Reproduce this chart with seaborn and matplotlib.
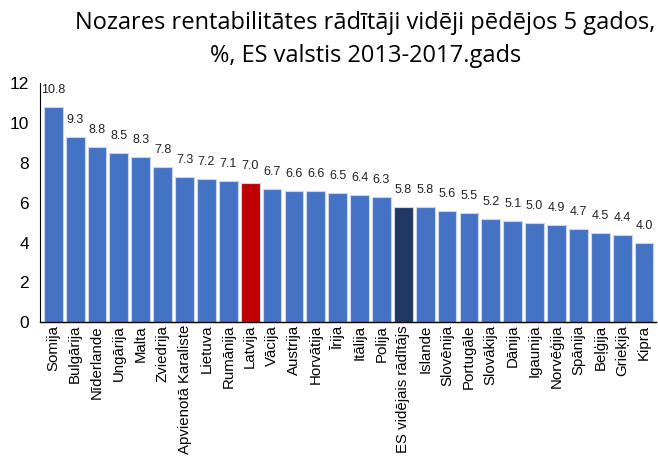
import pandas as pd
import numpy as np
import matplotlib.pyplot as plt
import seaborn as sns

# data
countries = ["Somija", "Bulgārija", "Nīderlande", "Ungārija", "Malta", "Zviedrija",
             "Apvienotā Karaliste", "Lietuva", "Rumānija", "Latvija", "Vācija", "Austrija",
             "Horvātija", "Īrija", "Itālija", "Polija", "ES vidējais rādītājs", "Islande",
             "Slovēnija", "Portugāle", "Slovākija", "Dānija", "Igaunija", "Norvēģija",
             "Spānija", "Beļģija", "Grieķija", "Kipra"]
values = [10.8, 9.3, 8.8, 8.5, 8.3, 7.8, 7.3, 7.2, 7.1, 7.0, 6.7, 6.6, 6.6, 6.5,
          6.4, 6.3, 5.8, 5.8, 5.6, 5.5, 5.2, 5.1, 5.0, 4.9, 4.7, 4.5, 4.4, 4.0]

blue = "#4472C4"
colors = []
for c in countries:
    if c == "Latvija":
        colors.append("#C00000")
    elif c == "ES vidējais rādītājs":
        colors.append("#1F3864")
    else:
        colors.append(blue)

df = pd.DataFrame({"Valsts": countries, "Vertiba": values})

sns.set_style("white")
plt.rcParams['font.family'] = ['Liberation Sans', 'DejaVu Sans']
plt.rcParams['text.color'] = 'black'
plt.rcParams['xtick.color'] = 'black'
plt.rcParams['ytick.color'] = 'black'

fig = plt.figure(figsize=(6.58, 4.57), dpi=100)
ax = fig.add_axes([0.061, 0.295, 0.936, 0.523])

sns.barplot(data=df, x="Valsts", y="Vertiba", hue="Valsts", palette=colors,
            legend=False, width=0.86, saturation=1, edgecolor="#C9D6EE",
            linewidth=0.8, ax=ax)

# value labels above bars
for i, v in enumerate(values):
    ax.text(i, v + 0.55, f"{v:.1f}", ha="center", va="bottom", fontsize=9,
            color="#222222")

ax.set_ylim(0, 12)
ax.set_yticks(range(0, 13, 2))
ax.set_xlim(-0.6, len(countries) - 0.45)
ax.set_xlabel("")
ax.set_ylabel("")
ax.tick_params(axis="y", labelsize=12.5, length=0, pad=8)
ax.tick_params(axis="x", labelsize=10.8, length=0, pad=2)
plt.setp(ax.get_xticklabels(), rotation=90)
for s in ["top", "right"]:
    ax.spines[s].set_visible(False)
ax.spines["left"].set_color("black")
ax.spines["bottom"].set_color("black")
ax.spines["bottom"].set_linewidth(1.0)

fig.text(0.555, 0.950, "Nozares rentabilitātes rādītāji vidēji pēdējos 5 gados,",
         ha="center", va="center", fontsize=17, color="black",
         family=["Open Sans", "DejaVu Sans"])
fig.text(0.555, 0.878, "%, ES valstis 2013-2017.gads",
         ha="center", va="center", fontsize=17, color="black",
         family=["Open Sans", "DejaVu Sans"])

fig.savefig("out.png", dpi=100)
